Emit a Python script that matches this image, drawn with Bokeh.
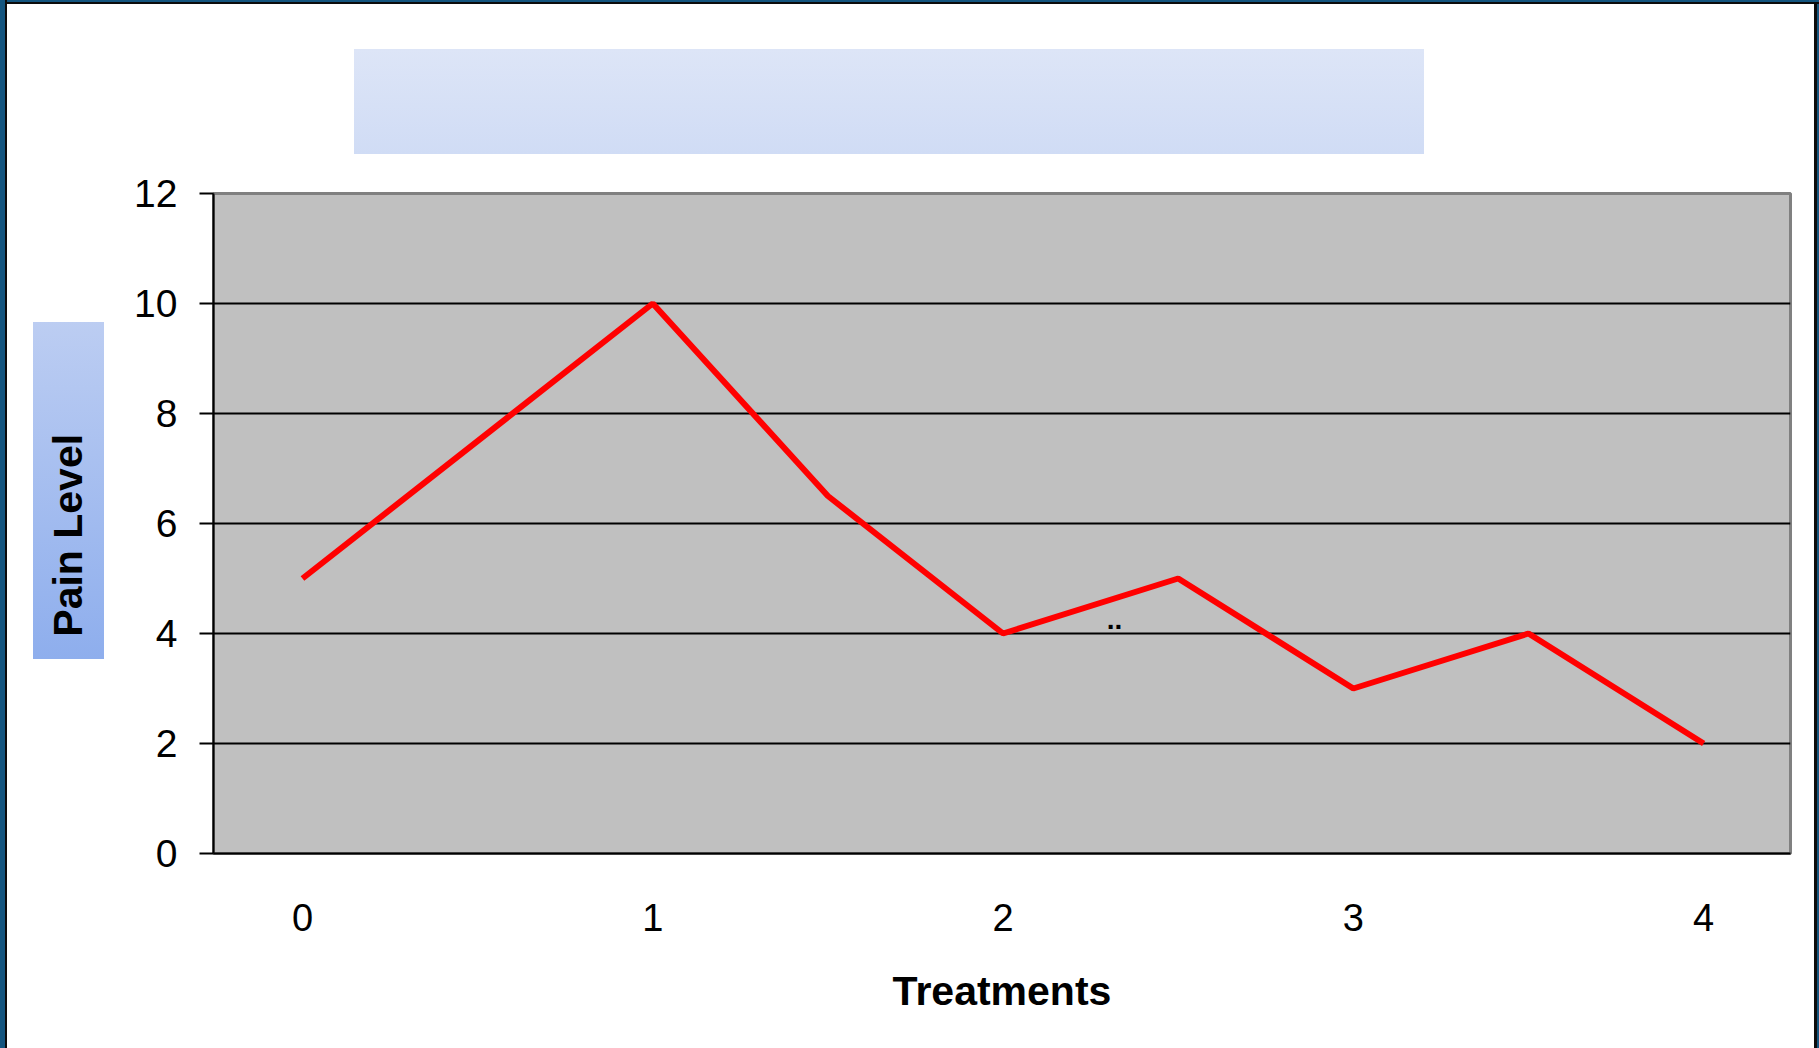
from bokeh.plotting import figure
from bokeh.models import Label, Range1d, FixedTicker, Title
from bokeh.embed import file_html
from bokeh.resources import INLINE

# ---- data ----
treatments = [0, 1, 1.5, 2, 2.5, 3, 3.5, 4]
pain_level = [5, 10, 6.5, 4, 5, 3, 4, 2]
x_ticks = [0, 1, 2, 3, 4]
y_ticks = [0, 2, 4, 6, 8, 10, 12]
grid_ticks = [2, 4, 6, 8, 10]
x_label = "Treatments"
y_label = "Pain Level"

W, H = 1819, 1048
p = figure(width=W, height=H, output_backend="svg", toolbar_location=None,
           x_range=Range1d(-0.254, 4.248), y_range=Range1d(0, 12),
           min_border_left=213, min_border_right=29,
           min_border_top=193, min_border_bottom=195)

p.background_fill_color = "#c0c0c0"
p.border_fill_color = "white"
p.border_fill_alpha = 0.0
# page decoration: window frame plus the two gradient backdrops (banner, y-title)
p.styles = {
    "background-color": "white",
    "background-image": ("linear-gradient(#dde5f7, #d0dcf5), "
                         "linear-gradient(#bccdf2, #8eaeed)"),
    "background-position": "354px 49px, 33px 322px",
    "background-size": "1070px 105px, 71px 337px",
    "background-repeat": "no-repeat, no-repeat",
    "box-shadow": ("inset 5px 0 0 #14557f, inset 7px 0 0 #0c0c0c, "
                   "inset 0 2px 0 #14557f, inset 0 4px 0 #0c0c0c, "
                   "inset -2px 0 0 #14557f, inset -5px 0 0 #0c0c0c"),
}
p.outline_line_color = "#808080"
p.outline_line_width = 3

p.xgrid.visible = False
p.ygrid.ticker = FixedTicker(ticks=grid_ticks)
p.ygrid.grid_line_color = "black"
p.ygrid.grid_line_width = 2

ya = p.yaxis[0]
ya.ticker = FixedTicker(ticks=y_ticks)
ya.axis_line_color = "black"
ya.axis_line_width = 2
ya.major_tick_out = 14
ya.major_tick_in = 0
ya.major_tick_line_width = 2
ya.major_tick_line_color = "black"
ya.minor_tick_line_color = None
ya.major_label_text_font = "Liberation Sans"
ya.major_label_text_font_size = "39px"
ya.major_label_text_color = "black"
ya.major_label_standoff = 22

xa = p.xaxis[0]
xa.ticker = FixedTicker(ticks=x_ticks)
xa.axis_line_color = "black"
xa.axis_line_width = 2
xa.major_tick_out = 0
xa.major_tick_in = 0
xa.minor_tick_line_color = None
xa.major_label_text_font = "Liberation Sans"
xa.major_label_text_font_size = "38px"
xa.major_label_text_color = "black"
xa.major_label_standoff = 50
xa.axis_label = x_label
xa.axis_label_text_font = "Liberation Sans"
xa.axis_label_text_font_style = "bold"
xa.axis_label_text_font_size = "41px"
xa.axis_label_text_color = "black"
xa.axis_label_standoff = 34

# empty title banner (backdrop painted by the gradient above)
banner = Title(text=" ", align="left", offset=141, text_font_size="10px",
               background_fill_color=None, border_line_color=None, standoff=78,
               padding=dict(left=0, right=1068, top=46, bottom=46))
p.add_layout(banner, "above")

# y-axis title (non-breaking spaces keep the same placement as the backdrop)
NB = "\u00a0"
ytitle = Title(text=NB * 2 + y_label + NB * 10, align="left", offset=194,
               text_font="Liberation Sans", text_font_style="bold",
               text_font_size="41px", text_color="black",
               background_fill_color=None, border_line_color=None, standoff=61,
               padding=dict(left=0, right=0, top=15, bottom=10))
p.add_layout(ytitle, "left")

p.line(treatments, pain_level, line_color="#ff0000", line_width=6)

p.add_layout(Label(x=2.318, y=4.25, text="..", text_font="Liberation Sans",
                   text_font_size="28px", text_color="black", text_align="center",
                   text_baseline="alphabetic", text_font_style="bold"))

open("out.html", "w").write(file_html(p, INLINE))
